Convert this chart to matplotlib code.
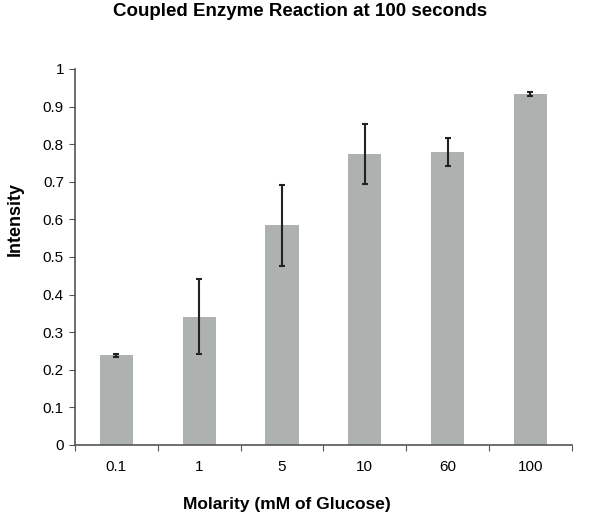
import numpy as np
from matplotlib import pyplot as plt

plt.rcParams['font.family'] = ['Liberation Sans', 'DejaVu Sans']

# Data
categories = ["0.1", "1", "5", "10", "60", "100"]
intensity = [0.238, 0.341, 0.584, 0.774, 0.779, 0.933]
errors = [0.003, 0.100, 0.107, 0.079, 0.037, 0.006]

fig = plt.figure(figsize=(6.0, 5.18), dpi=100)
ax = fig.add_axes([0.125, 0.141, 0.828, 0.726])

x = np.arange(len(categories))
ax.bar(x, intensity, width=0.4, color="#adb1af", zorder=2)
ax.errorbar(x, intensity, yerr=errors, fmt="none", ecolor="#222222",
            elinewidth=1.5, capsize=2.5, capthick=1.5, zorder=3)

ax.set_xlim(-0.5, len(categories) - 0.5)
ax.set_ylim(0, 1)
ax.set_yticks(np.arange(0, 1.01, 0.1))
ax.set_yticklabels(["0", "0.1", "0.2", "0.3", "0.4", "0.5", "0.6", "0.7", "0.8", "0.9", "1"])

# ticks between categories, labels at centres
ax.set_xticks(np.arange(-0.5, len(categories), 1.0))
ax.set_xticklabels([])
ax.set_xticks(x, minor=True)
ax.set_xticklabels(categories, minor=True)
ax.tick_params(axis="x", which="minor", length=0, pad=11, labelsize=11)
ax.tick_params(axis="x", which="major", length=4, direction="out", color="#555555")
ax.tick_params(axis="y", length=4, direction="out", color="#555555", labelsize=11, pad=4)

for s in ["top", "right"]:
    ax.spines[s].set_visible(False)
for s in ["left", "bottom"]:
    ax.spines[s].set_color("#555555")
    ax.spines[s].set_linewidth(1.2)

ax.set_ylabel("Intensity", fontsize=13, fontweight="bold")
ax.yaxis.set_label_coords(-0.103, 0.60)
ax.set_xlabel("Molarity (mM of Glucose)", fontsize=12.5, fontweight="bold")
ax.xaxis.set_label_coords(0.427, -0.138)
fig.text(0.5, 0.977, "Coupled Enzyme Reaction at 100 seconds", ha="center", va="center",
         fontsize=13.5, fontweight="bold")

fig.savefig("out.png", dpi=100)
